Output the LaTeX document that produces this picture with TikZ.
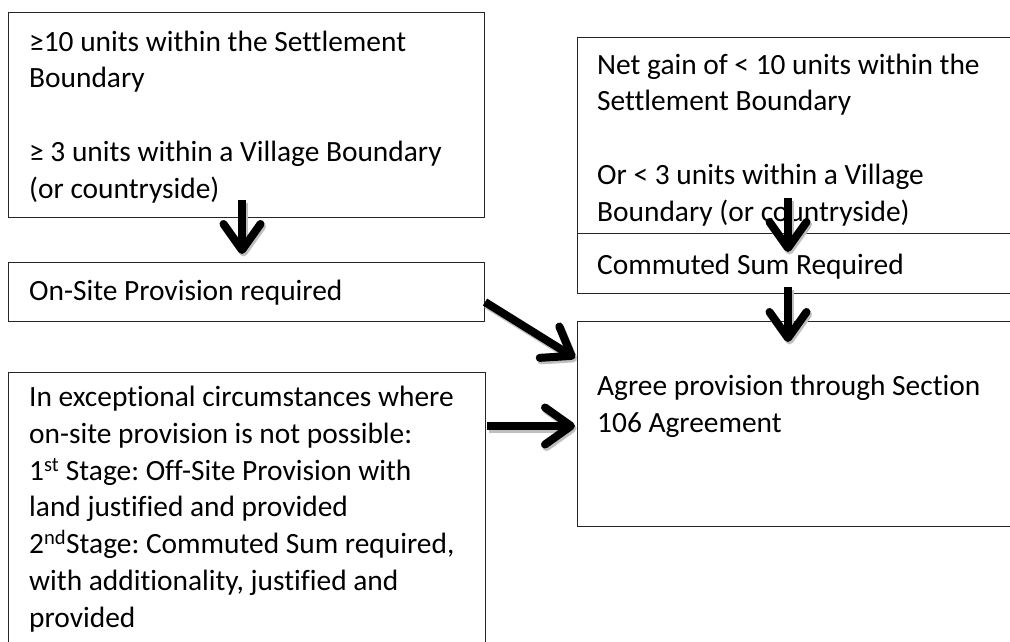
\documentclass[tikz,border=0pt]{standalone}
\usepackage{fontspec}
\setmainfont{Carlito}[Ligatures=CommonOff]
\frenchspacing
\usetikzlibrary{arrows.meta}
\tikzset{
  box/.style={draw=black!85, line width=0.9pt, anchor=north west, inner sep=0pt, outer sep=0pt},
  txt/.style={anchor=base west, inner sep=0pt, align=left, font=\fontsize{29.4}{36.7}\selectfont\frenchspacing},
  bigarrow/.style={line width=8pt, -{Straight Barb[length=26pt, width=37pt, round]},
    preaction={draw=black!25, line width=8pt, transform canvas={shift={(1.5pt,-2.5pt)}}}}
}
\begin{document}
\begin{tikzpicture}[x=1pt, y=-1pt]
\useasboundingbox (0,0) rectangle (1010,642);
\clip (0,0) rectangle (1010,642);
\fill[white] (0,0) rectangle (1010,642);
% boxes
\node[box, minimum width=476pt, minimum height=205pt] (A) at (8,12) {};
\node[box, minimum width=476pt, minimum height=59pt] (B) at (8,262) {};
\node[box, minimum width=453pt, minimum height=196pt] (C) at (577,37) {};
\node[box, minimum width=453pt, minimum height=60pt] (Cs) at (577,233) {};
\node[box, minimum width=453pt, minimum height=205pt] (E) at (577,321) {};
\node[box, minimum width=477pt, minimum height=300pt] (D) at (8,372) {};
% texts (anchored at the baseline of their last line)
\node[txt] (tA) at (29,198) {≥10 units within the Settlement\\Boundary\\[36.7pt]≥ 3 units within a Village Boundary\\(or countryside)};
\node[txt] (tB) at (29,300) {On-Site Provision required};
\node[txt] (tC) at (597,221) {Net gain of < 10 units within the\\Settlement Boundary\\[36.7pt]Or < 3 units within a Village\\Boundary (or countryside)};
\node[txt] (tCs) at (597,274) {Commuted Sum Required};
\node[txt] (tE) at (597,432) {Agree provision through Section\\106 Agreement};
\node[txt] (tD) at (29,627) {In exceptional circumstances where\\on-site provision is not possible:\\1\textsuperscript{st} Stage: Off-Site Provision with\\land justified and provided\\2\textsuperscript{nd}Stage: Commuted Sum required,\\with additionality, justified and\\provided};
% arrow ends
\coordinate (a1) at (242,200); \coordinate (a2) at (242,254);
\coordinate (c1) at (788,198); \coordinate (c2) at (788,252);
\coordinate (c3) at (788,287); \coordinate (e1) at (788,342);
\coordinate (b1) at (485,302); \coordinate (e2) at (575,358);
\coordinate (d1) at (487,426); \coordinate (e3) at (575,426);
\draw[bigarrow] (a1) -- (a2);
\draw[bigarrow] (c1) -- (c2);
\draw[bigarrow] (c3) -- (e1);
\draw[bigarrow] (b1) -- (e2);
\draw[bigarrow] (d1) -- (e3);
\end{tikzpicture}
\end{document}
